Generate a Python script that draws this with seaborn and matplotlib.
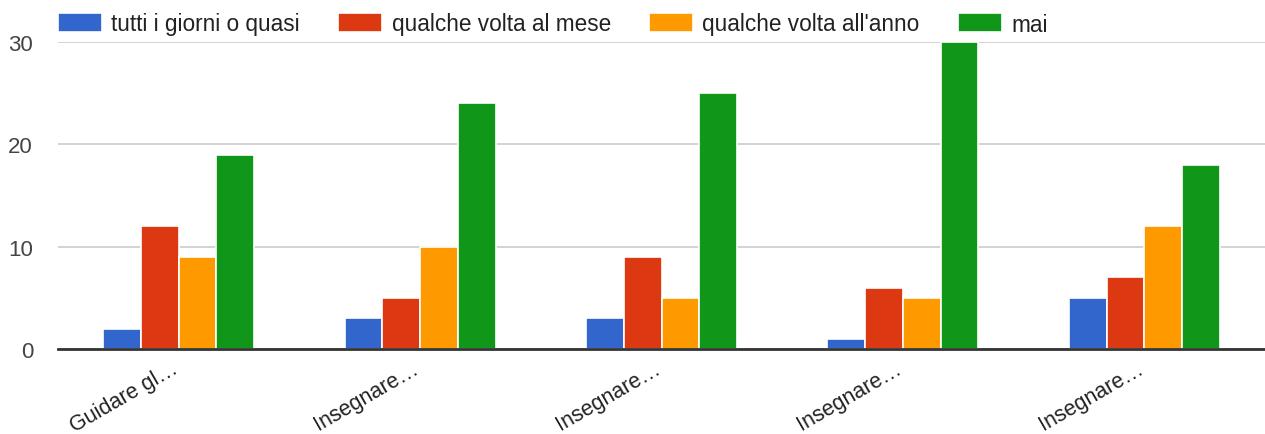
import matplotlib
matplotlib.use("Agg")
import matplotlib.pyplot as plt
import seaborn as sns
import pandas as pd

categories = ["q1", "q2", "q3", "q4", "q5"]
tick_labels = ["Guidare gl…", "Insegnare…", "Insegnare…", "Insegnare…", "Insegnare…"]
series = ["tutti i giorni o quasi", "qualche volta al mese", "qualche volta all'anno", "mai"]
values_tutti = [2, 3, 3, 1, 5]
values_mese = [12, 5, 9, 6, 7]
values_anno = [9, 10, 5, 5, 12]
values_mai = [19, 24, 25, 30, 18]
colors = ["#3366cc", "#dc3912", "#ff9900", "#109618"]

rows = []
for s, vals in zip(series, [values_tutti, values_mese, values_anno, values_mai]):
    for c, v in zip(categories, vals):
        rows.append({"cat": c, "serie": s, "val": v})
df = pd.DataFrame(rows)

sns.set_theme(style="white")
plt.rcParams["font.family"] = ["Liberation Sans", "DejaVu Sans"]

fig = plt.figure(figsize=(12.65, 4.35), dpi=100)
ax = fig.add_axes([58 / 1265, (435 - 350) / 435, (1265 - 58) / 1265, (350 - 43) / 435])

sns.barplot(data=df, x="cat", y="val", hue="serie", order=categories, hue_order=series,
            palette=colors, width=0.625, edgecolor="white", linewidth=1.2,
            saturation=1, ax=ax, legend=True)

ax.set_ylim(0, 30)
ax.set_xlim(-0.5, 4.5)
ax.set_yticks([0, 10, 20, 30])
ax.set_xticks(range(len(categories)))
ax.set_xticklabels(tick_labels)
ax.yaxis.grid(True, color="#cccccc", linewidth=1.2)
ax.set_axisbelow(True)
ax.set_xlabel("")
ax.set_ylabel("")
for sp in ["top", "right", "left"]:
    ax.spines[sp].set_visible(False)
ax.spines["bottom"].set_color("#333333")
ax.spines["bottom"].set_linewidth(2)
ax.spines["bottom"].set_zorder(5)
ax.tick_params(axis="y", length=0, labelsize=16, labelcolor="#444444", pad=18)
ax.tick_params(axis="x", length=0, labelsize=15.5, labelcolor="#222222", pad=16)
for lab in ax.get_xticklabels():
    lab.set_rotation(30)
    lab.set_ha("right")
    lab.set_va("baseline")
    lab.set_rotation_mode("anchor")
for t in ax.get_yticklabels():
    t.set_ha("right")

handles, labels = ax.get_legend_handles_labels()
ax.legend(handles, labels, ncol=4, loc="center left", bbox_to_anchor=(0.0, 1 + 18 / 307),
          frameon=False, fontsize=16.3, handlelength=1.95, handleheight=0.9,
          handletextpad=0.4, columnspacing=1.7, borderaxespad=0, borderpad=0,
          labelcolor="#222222")

fig.savefig("out.png", dpi=100)
